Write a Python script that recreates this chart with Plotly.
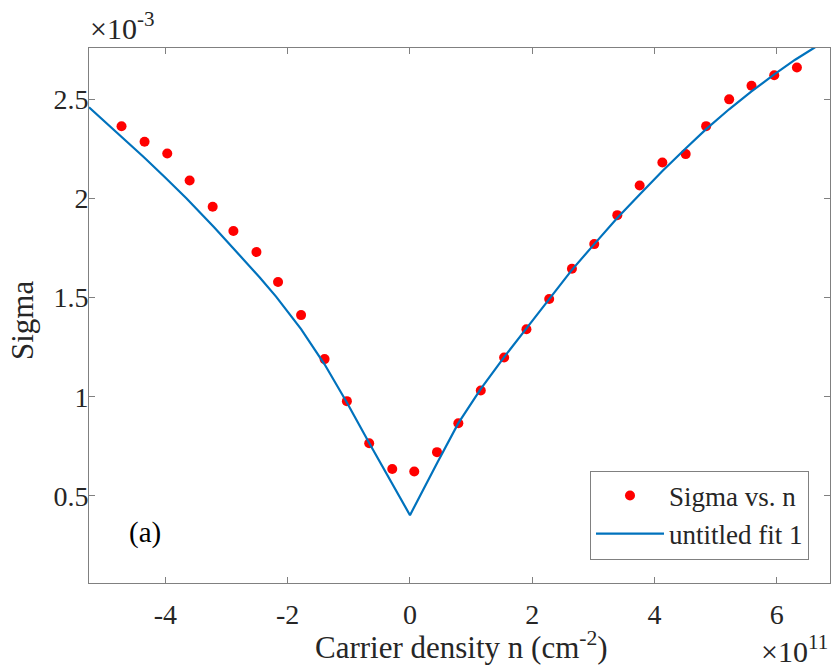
import plotly.graph_objects as go

# Measured conductivity (units of 1e-3) vs carrier density (units of 1e11 cm^-2)
density = [-4.718, -4.341, -3.970, -3.604, -3.227, -2.888, -2.511, -2.158,
           -1.781, -1.397, -1.032, -0.667, -0.290, 0.070, 0.442, 0.791,
           1.158, 1.540, 1.905, 2.277, 2.649, 3.014, 3.391, 3.757,
           4.128, 4.510, 4.844, 5.221, 5.586, 5.958, 6.329]
sigma = [2.364, 2.286, 2.227, 2.091, 1.958, 1.836, 1.730, 1.579,
         1.412, 1.190, 0.978, 0.766, 0.636, 0.623, 0.721, 0.867,
         1.032, 1.198, 1.341, 1.493, 1.646, 1.770, 1.916, 2.066,
         2.182, 2.224, 2.365, 2.500, 2.569, 2.622, 2.661]

# Fitted curve ("untitled fit 1")
fit_density = [-5.25, -4.8, -4.347, -4.0, -3.658, -3.2, -2.8, -2.457, -2.19,
               -1.781, -1.397, -1.032, -0.667, -0.3, 0.0, 0.442, 0.791,
               1.158, 1.54, 1.905, 2.277, 2.649, 3.014, 3.386, 3.757,
               4.133, 4.5, 4.844, 5.22, 5.586, 5.953, 6.3, 6.606, 6.87]
fit_sigma = [2.460, 2.336, 2.207, 2.105, 2.001, 1.854, 1.720, 1.602, 1.505,
             1.341, 1.164, 0.971, 0.767, 0.567, 0.403, 0.665, 0.867,
             1.04, 1.20, 1.345, 1.495, 1.64, 1.77, 1.90, 2.02,
             2.14, 2.25, 2.35, 2.45, 2.54, 2.625, 2.70, 2.759, 2.81]

x_ticks = [-4, -2, 0, 2, 4, 6]
x_ticktext = ["-4", "-2", "0", "2", "4", "6"]
y_ticks = [0.5, 1, 1.5, 2, 2.5]
y_ticktext = ["0.5", "1", "1.5", "2", "2.5"]

FONT = "Liberation Serif"
TXT = "#262626"
AX = "#808080"

fig = go.Figure()
fig.add_trace(go.Scatter(
    x=density, y=sigma, mode="markers", name="Sigma vs. n",
    marker=dict(color="#ff0000", size=10, line=dict(width=0)),
))
fig.add_trace(go.Scatter(
    x=fit_density, y=fit_sigma, mode="lines", name="untitled fit 1",
    line=dict(color="#0072BD", width=2.2),
))

axis_common = dict(
    showgrid=False, zeroline=False, showline=True, linecolor=AX, linewidth=1,
    mirror="ticks", ticks="inside", ticklen=6, tickcolor=AX, tickwidth=1,
    tickfont=dict(family=FONT, size=28, color=TXT),
)
fig.update_xaxes(range=[-5.25, 6.87], tickvals=x_ticks, ticktext=x_ticktext,
                 ticklabelstandoff=6, **axis_common)
fig.update_yaxes(range=[0.061, 2.759], tickvals=y_ticks, ticktext=y_ticktext,
                 ticklabelstandoff=-6, **axis_common)

W, H = 832, 669
L, R, T, B = 89, 2, 48, 86
pw, ph = W - L - R, H - T - B


def px(xp):
    return (xp - L) / pw


def py(yp):
    return (H - B - yp) / ph


ann_font = dict(family=FONT, size=31, color=TXT)
fig.update_layout(
    width=W, height=H,
    margin=dict(l=L, r=R, t=T, b=B),
    paper_bgcolor="white", plot_bgcolor="white",
    showlegend=True,
    legend=dict(
        x=px(809), y=py(515), xanchor="right", yanchor="middle",
        bgcolor="white", bordercolor=AX, borderwidth=1,
        font=dict(family=FONT, size=27, color=TXT),
        tracegroupgap=0, itemwidth=68,
    ),
    annotations=[
        dict(text="Sigma", textangle=-90, x=px(22), y=py(321),
             xref="paper", yref="paper", xanchor="center", yanchor="middle",
             showarrow=False, font=ann_font),
        dict(text="Carrier density n (cm<sup>-2</sup>)", x=px(461), y=py(667),
             xref="paper", yref="paper", xanchor="center", yanchor="bottom",
             showarrow=False, font=ann_font),
        dict(text="×10<sup>-3</sup>", x=px(88), y=py(47),
             xref="paper", yref="paper", xanchor="left", yanchor="bottom",
             showarrow=False, font=dict(family=FONT, size=30, color=TXT)),
        dict(text="×10<sup>11</sup>", x=px(830), y=py(670),
             xref="paper", yref="paper", xanchor="right", yanchor="bottom",
             showarrow=False, font=dict(family=FONT, size=30, color=TXT)),
        dict(text="(a)", x=px(127), y=py(532),
             xref="paper", yref="paper", xanchor="left", yanchor="middle",
             showarrow=False, font=dict(family=FONT, size=29, color="#000000")),
    ],
)

fig.write_html("out.html")
